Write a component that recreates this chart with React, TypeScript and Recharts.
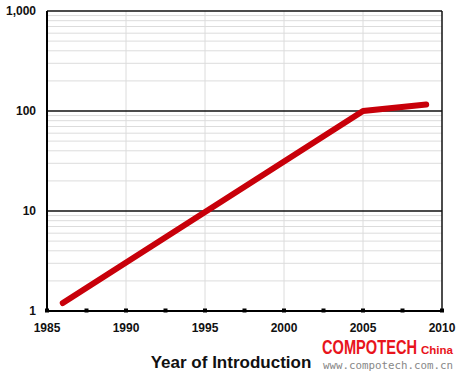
import React from 'react';
import { LineChart, Line, XAxis, YAxis, CartesianGrid, ReferenceLine } from 'recharts';

const years = [1986, 2005, 2009];
const values = [1.2, 100, 116];

const xTicks = [1985, 1987.5, 1990, 1992.5, 1995, 1997.5, 2000, 2002.5, 2005, 2007.5, 2010];
const xLabels = [1985, 1990, 1995, 2000, 2005, 2010];
const yTicks = [1, 10, 100, 1000];
const minorY = [2, 3, 4, 5, 6, 7, 8, 9, 20, 30, 40, 50, 60, 70, 80, 90, 200, 300, 400, 500, 600, 700, 800, 900];
const gridX = [1990, 1995, 2000, 2005];
const majorY = [10, 100, 1000];

const chartData = years.map((year, i) => ({ year, value: values[i] }));

const FONT = '"Liberation Sans", Arial, Helvetica, sans-serif';

const XTick = (props: any) => {
  const { x, y, payload } = props;
  const showLabel = xLabels.includes(payload.value);
  return (
    <g>
      <rect x={x - 2} y={y - 2.5} width={4} height={4} fill="#000" />
      {showLabel && (
        <text x={x} y={y + 21} textAnchor="middle" fontFamily={FONT} fontWeight="bold" fontSize={12} fill="#111">
          {payload.value}
        </text>
      )}
    </g>
  );
};

const App: React.FC = () => {
  return (
    <div style={{ position: 'relative', width: 461, height: 376, background: '#fff' }}>
      <style>{'body{margin:0}'}</style>
      <LineChart width={461} height={376} data={chartData} margin={{ top: 11, right: 19, left: 0, bottom: 0 }}>
        <CartesianGrid stroke="#dcdcdc" strokeWidth={1} horizontalValues={minorY} verticalValues={gridX} />
        <XAxis
          dataKey="year"
          type="number"
          domain={[1985, 2010]}
          ticks={xTicks}
          interval={0}
          height={65}
          tickLine={false}
          tickSize={0}
          tickMargin={0}
          axisLine={{ stroke: '#000', strokeWidth: 2 }}
          tick={<XTick />}
        />
        <YAxis
          type="number"
          scale="log"
          domain={[1, 1000]}
          ticks={yTicks}
          interval={0}
          width={47}
          tickLine={false}
          tickSize={0}
          tickMargin={11}
          allowDataOverflow
          axisLine={{ stroke: '#000', strokeWidth: 2 }}
          tickFormatter={(v: number) => v.toLocaleString('en-US')}
          tick={{ fill: '#111', fontSize: 12, fontWeight: 'bold', fontFamily: FONT }}
        />
        {majorY.map(v => (
          <ReferenceLine key={v} y={v} stroke="#111" strokeWidth={1.5} />
        ))}
        <ReferenceLine x={2010} stroke="#111" strokeWidth={1.5} />
        <Line
          type="linear"
          dataKey="value"
          stroke="#c8000a"
          strokeWidth={6}
          strokeLinecap="round"
          strokeLinejoin="round"
          dot={false}
          isAnimationActive={false}
        />
      </LineChart>
      <svg width={461} height={376} style={{ position: 'absolute', left: 0, top: 0, pointerEvents: 'none' }}>
        <text x={231} y={368} textAnchor="middle" fontFamily={FONT} fontWeight="bold" fontSize={17} fill="#111">
          Year of Introduction
        </text>
        {/* watermark: stretched vertically to look like the condensed logo */}
        <g transform="scale(1 1.3)">
          <text
            x={322}
            y={272.3}
            fontFamily={FONT}
            fontWeight="bold"
            fontSize={15}
            fill="#e8141c"
            textLength={95}
            lengthAdjust="spacingAndGlyphs"
          >
            COMPOTECH
          </text>
        </g>
        <text
          x={421}
          y={354}
          fontFamily={FONT}
          fontWeight="bold"
          fontSize={10}
          fill="#e8141c"
          textLength={32}
          lengthAdjust="spacingAndGlyphs"
        >
          China
        </text>
        <text
          x={323}
          y={369}
          fontFamily='"DejaVu Sans Mono", monospace'
          fontSize={10}
          fill="#888"
          textLength={130}
          lengthAdjust="spacingAndGlyphs"
        >
          www.compotech.com.cn
        </text>
      </svg>
    </div>
  );
};

export default App;
